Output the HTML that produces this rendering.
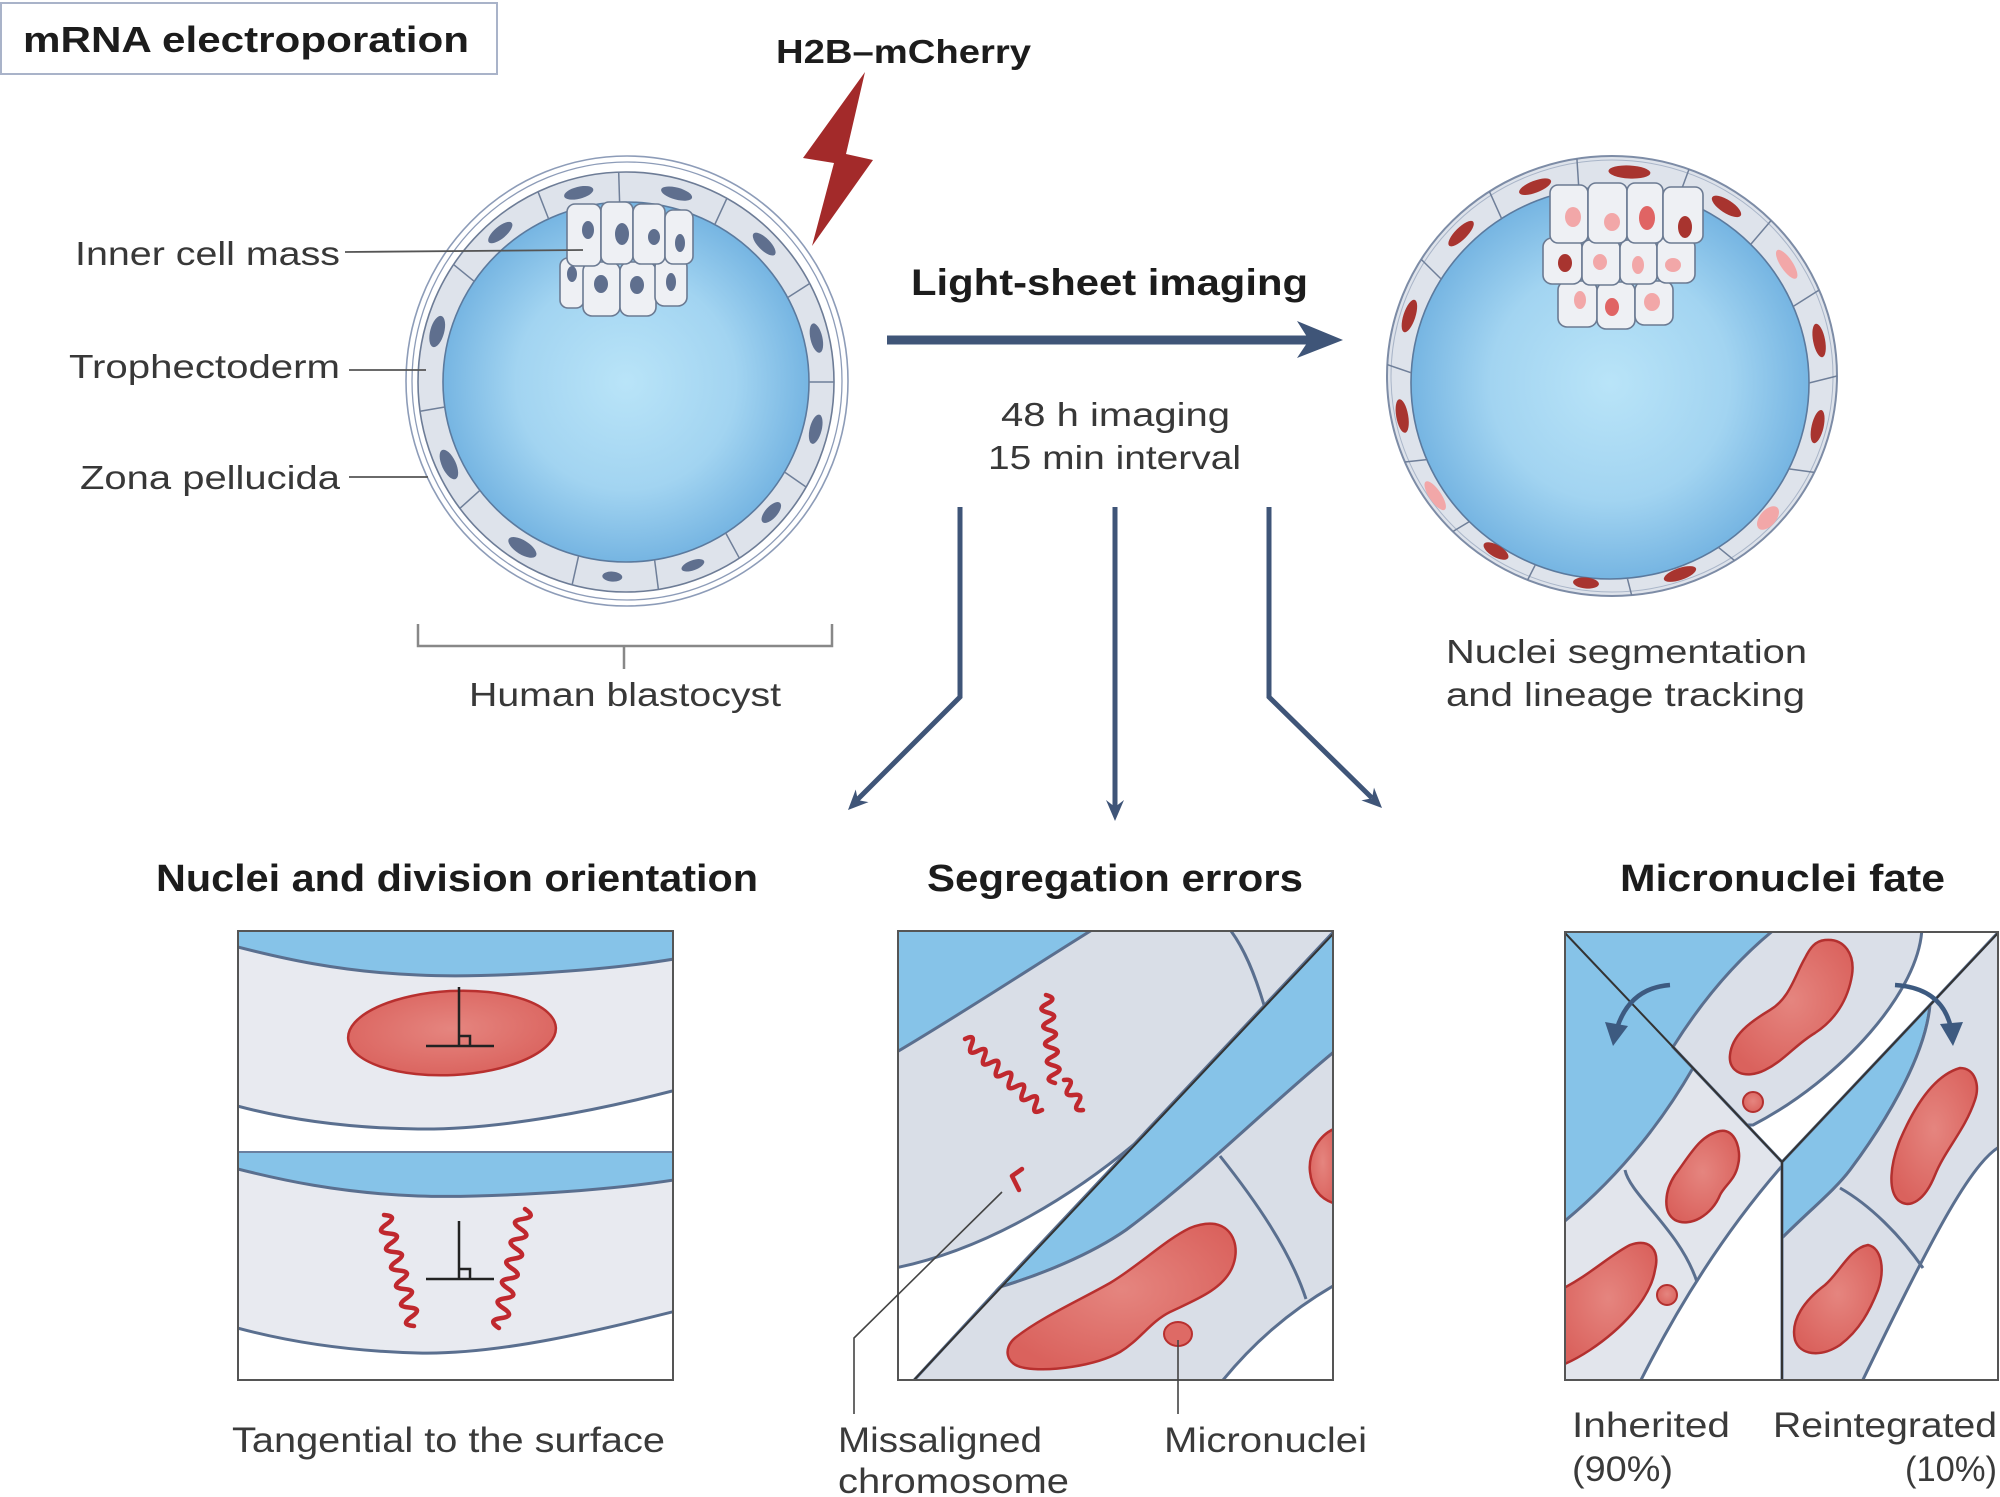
<!DOCTYPE html>
<html><head><meta charset="utf-8"><style>
html,body{margin:0;padding:0;background:#fff;}
body{width:2000px;height:1497px;overflow:hidden;}
svg{display:block;}
text{font-family:"Liberation Sans",Arial,sans-serif;}
.lb{font-size:33px;fill:#383838;}
.bt{font-size:38px;font-weight:700;fill:#1c1c1c;}
.cp{font-size:35px;fill:#3a3a3a;}
</style></head><body>
<svg width="2000" height="1497" viewBox="0 0 2000 1497" xmlns="http://www.w3.org/2000/svg">
<defs>
<radialGradient id="cav" cx="50%" cy="50%" r="50%"><stop offset="0" stop-color="#b9e4f8"/><stop offset="0.6" stop-color="#a2d4f1"/><stop offset="1" stop-color="#76b5e2"/></radialGradient>
<radialGradient id="nuc" cx="50%" cy="45%" r="60%"><stop offset="0" stop-color="#e5857f"/><stop offset="1" stop-color="#da625d"/></radialGradient>
<clipPath id="c1"><rect x="238" y="931" width="435" height="449"/></clipPath>
<clipPath id="c2"><rect x="898" y="931" width="435" height="449"/></clipPath>
<clipPath id="c3"><rect x="1565" y="932" width="433" height="448"/></clipPath>
</defs>

<!-- Title box -->
<rect x="1" y="3" width="496" height="71" fill="#fff" stroke="#a9b3c9" stroke-width="2"/>
<text x="23" y="52" font-size="36" font-weight="700" fill="#1c1c1c" textLength="446" lengthAdjust="spacingAndGlyphs">mRNA electroporation</text>
<text x="776" y="63" font-size="33" font-weight="700" fill="#1c1c1c" textLength="255" lengthAdjust="spacingAndGlyphs">H2B–mCherry</text>
<polygon points="865,72 803,158 834,163 812,246 873,160 846,154" fill="#a32a2a"/>

<!-- Left blastocyst -->
<ellipse cx="627" cy="381" rx="221" ry="225" fill="#fff" stroke="#8d9cb8" stroke-width="1.6"/>
<ellipse cx="627" cy="381" rx="215" ry="219" fill="none" stroke="#8d9cb8" stroke-width="1.3"/>
<ellipse cx="626" cy="382" rx="208" ry="210" fill="#dee3eb" stroke="#6d7c96" stroke-width="1.6"/>
<ellipse cx="626" cy="382" rx="183" ry="180" fill="url(#cav)" stroke="#5b7a9e" stroke-width="1.6"/>
<g stroke="#6f7f99" stroke-width="1.5">
<line x1="474.3" y1="281.4" x2="453.6" y2="264.6"/><line x1="548.6" y1="218.9" x2="538" y2="191.7"/>
<line x1="619.6" y1="202.2" x2="618.7" y2="172.2"/><line x1="714.8" y1="224.5" x2="726.9" y2="198.3"/>
<line x1="787.6" y1="297.6" x2="809.7" y2="283.5"/><line x1="809" y1="382" x2="834" y2="382"/>
<line x1="784.5" y1="472" x2="806.1" y2="487"/><line x1="725.7" y1="533" x2="739.4" y2="558.2"/>
<line x1="654.6" y1="559.8" x2="658.4" y2="589.5"/><line x1="578.6" y1="555.9" x2="572.1" y2="584.9"/>
<line x1="479.8" y1="490.4" x2="459.8" y2="508.4"/><line x1="444.8" y1="407" x2="420.1" y2="411.2"/>
</g>
<g fill="#5f6f8e">
<ellipse cx="500.3" cy="232.6" rx="15" ry="6" transform="rotate(-40 500.3 232.6)"/>
<ellipse cx="578.7" cy="192.8" rx="15" ry="6" transform="rotate(-14 578.7 192.8)"/>
<ellipse cx="676.6" cy="193.6" rx="16" ry="6" transform="rotate(15 676.6 193.6)"/>
<ellipse cx="764.2" cy="244.1" rx="15" ry="6" transform="rotate(45 764.2 244.1)"/>
<ellipse cx="816.4" cy="338.1" rx="15" ry="6" transform="rotate(77 816.4 338.1)"/>
<ellipse cx="815.7" cy="429.2" rx="15" ry="6" transform="rotate(104 815.7 429.2)"/>
<ellipse cx="771.3" cy="512.5" rx="13" ry="6" transform="rotate(132 771.3 512.5)"/>
<ellipse cx="692.9" cy="565.3" rx="12" ry="5" transform="rotate(160 692.9 565.3)"/>
<ellipse cx="612.3" cy="576.6" rx="10" ry="5" transform="rotate(184 612.3 576.6)"/>
<ellipse cx="522.4" cy="547.4" rx="16" ry="7" transform="rotate(212 522.4 547.4)"/>
<ellipse cx="448.9" cy="464.5" rx="16" ry="7" transform="rotate(245 448.9 464.5)"/>
<ellipse cx="437.2" cy="331.5" rx="16" ry="7" transform="rotate(-75 437.2 331.5)"/>
</g>
<g fill="#eef0f4" stroke="#6b7a92" stroke-width="1.6">
<rect x="560" y="258" width="24" height="50" rx="8"/><rect x="583" y="262" width="37" height="54" rx="9"/>
<rect x="620" y="262" width="36" height="54" rx="9"/><rect x="655" y="258" width="32" height="48" rx="9"/>
<rect x="567" y="204" width="34" height="62" rx="8"/><rect x="601" y="202" width="32" height="62" rx="8"/>
<rect x="633" y="204" width="32" height="60" rx="8"/><rect x="665" y="210" width="28" height="54" rx="8"/>
</g>
<g fill="#5f6f8e">
<ellipse cx="588" cy="230" rx="6" ry="9"/><ellipse cx="622" cy="234" rx="7" ry="11"/>
<ellipse cx="654" cy="237" rx="6" ry="8"/><ellipse cx="680" cy="243" rx="5" ry="9"/>
<ellipse cx="572" cy="274" rx="5" ry="8"/><ellipse cx="601" cy="284" rx="7" ry="9"/>
<ellipse cx="637" cy="285" rx="7" ry="9"/><ellipse cx="671" cy="282" rx="5" ry="9"/>
</g>
<g stroke="#555" stroke-width="1.8">
<line x1="345" y1="252" x2="583" y2="250"/>
<line x1="349" y1="370" x2="426" y2="370"/>
<line x1="349" y1="477" x2="428" y2="477"/>
</g>
<text class="lb" x="75" y="265" textLength="265" lengthAdjust="spacingAndGlyphs">Inner cell mass</text>
<text class="lb" x="69" y="378" textLength="271" lengthAdjust="spacingAndGlyphs">Trophectoderm</text>
<text class="lb" x="80" y="489" textLength="260" lengthAdjust="spacingAndGlyphs">Zona pellucida</text>
<path d="M418,624 V646 H832 V624 M624,646 V669" fill="none" stroke="#888" stroke-width="2.5"/>
<text class="lb" x="469" y="706" textLength="312" lengthAdjust="spacingAndGlyphs">Human blastocyst</text>

<!-- Center arrow & text -->
<text x="911" y="295" font-size="37" font-weight="700" fill="#1c1c1c" textLength="397" lengthAdjust="spacingAndGlyphs">Light-sheet imaging</text>
<line x1="887" y1="340" x2="1310" y2="340" stroke="#3f5578" stroke-width="9"/>
<polygon points="1343,340 1297,321 1309,340 1297,358" fill="#3f5578"/>
<text class="lb" x="1001" y="426" font-size="34" textLength="229" lengthAdjust="spacingAndGlyphs">48 h imaging</text>
<text class="lb" x="988" y="469" font-size="34" textLength="253" lengthAdjust="spacingAndGlyphs">15 min interval</text>
<g fill="none" stroke="#3f5578" stroke-width="5" stroke-linejoin="miter">
<polyline points="960,507 960,697 857,800"/>
<polyline points="1115,507 1115,810"/>
<polyline points="1269,507 1269,697 1372,798"/>
</g>
<g fill="#3f5578">
<polygon points="848,810 855.7,789.5 857.9,800.1 868.5,802.1"/>
<polygon points="1115,821 1106,800 1115,807 1124,800"/>
<polygon points="1382,808 1374,787.6 1372,798.2 1361.4,800.4"/>
</g>

<!-- Right blastocyst -->
<ellipse cx="1612" cy="376" rx="225" ry="220" fill="#dee3eb" stroke="#7d8ca6" stroke-width="2"/>
<ellipse cx="1612" cy="376" rx="221" ry="216" fill="none" stroke="#a9b5c8" stroke-width="1"/>
<ellipse cx="1610" cy="383" rx="199" ry="196" fill="url(#cav)" stroke="#5b7a9e" stroke-width="1.6"/>
<g stroke="#6f7f99" stroke-width="1.5">
<line x1="1441.2" y1="279.1" x2="1421.2" y2="259.4"/><line x1="1501.6" y1="218.6" x2="1489.4" y2="191.4"/>
<line x1="1578.9" y1="189.4" x2="1576.9" y2="158.6"/><line x1="1678.1" y1="198.8" x2="1689" y2="169.2"/>
<line x1="1750.7" y1="244.4" x2="1771.1" y2="220.5"/><line x1="1793.3" y1="306.4" x2="1819.2" y2="290"/>
<line x1="1809" y1="383" x2="1837" y2="376"/><line x1="1788.9" y1="468.9" x2="1814.3" y2="472.4"/>
<line x1="1718.5" y1="547.4" x2="1734.6" y2="560.6"/><line x1="1627.3" y1="578.2" x2="1631.6" y2="595.1"/>
<line x1="1535.4" y1="564.7" x2="1527.6" y2="580"/><line x1="1469.3" y1="521.6" x2="1452.9" y2="531.5"/>
<line x1="1426.7" y1="459.6" x2="1404.8" y2="462"/><line x1="1411.2" y1="372.8" x2="1387.2" y2="364.6"/>
</g>
<g>
<ellipse cx="1461.1" cy="233.6" rx="17" ry="6" transform="rotate(-45 1461.1 233.6)" fill="#a8342f"/>
<ellipse cx="1535.1" cy="186.7" rx="17" ry="6" transform="rotate(-21 1535.1 186.7)" fill="#a8342f"/>
<ellipse cx="1629.4" cy="172" rx="21" ry="6.5" transform="rotate(3 1629.4 172)" fill="#a8342f"/>
<ellipse cx="1726.5" cy="206.4" rx="17" ry="6.5" transform="rotate(33 1726.5 206.4)" fill="#a8342f"/>
<ellipse cx="1786.7" cy="264.3" rx="17" ry="6" transform="rotate(56 1786.7 264.3)" fill="#f2a7a8"/>
<ellipse cx="1819.1" cy="340.5" rx="17" ry="6" transform="rotate(79 1819.1 340.5)" fill="#a8342f"/>
<ellipse cx="1817.6" cy="426.6" rx="17" ry="6" transform="rotate(103 1817.6 426.6)" fill="#a8342f"/>
<ellipse cx="1768" cy="518" rx="14" ry="8" transform="rotate(131 1768 518)" fill="#f2a7a8"/>
<ellipse cx="1680" cy="574" rx="17" ry="6" transform="rotate(161 1680 574)" fill="#a8342f"/>
<ellipse cx="1586" cy="583" rx="13" ry="5.5" transform="rotate(185 1586 583)" fill="#a8342f"/>
<ellipse cx="1496" cy="551" rx="14" ry="6" transform="rotate(210 1496 551)" fill="#a8342f"/>
<ellipse cx="1435.2" cy="495.7" rx="17" ry="6" transform="rotate(236 1435.2 495.7)" fill="#f2a7a8"/>
<ellipse cx="1402.2" cy="416" rx="17" ry="6" transform="rotate(260 1402.2 416)" fill="#a8342f"/>
<ellipse cx="1409.4" cy="316" rx="17" ry="6" transform="rotate(-72 1409.4 316)" fill="#a8342f"/>
</g>
<g fill="#eef0f4" stroke="#6b7a92" stroke-width="1.6">
<rect x="1558" y="281" width="39" height="46" rx="9"/><rect x="1597" y="282" width="38" height="47" rx="9"/><rect x="1635" y="281" width="38" height="44" rx="9"/>
<rect x="1543" y="238" width="39" height="46" rx="9"/><rect x="1582" y="240" width="38" height="45" rx="8"/><rect x="1620" y="240" width="37" height="44" rx="8"/><rect x="1657" y="238" width="38" height="45" rx="9"/>
<rect x="1550" y="185" width="38" height="58" rx="8"/><rect x="1588" y="183" width="39" height="60" rx="8"/><rect x="1627" y="183" width="36" height="60" rx="8"/><rect x="1663" y="187" width="40" height="56" rx="8"/>
</g>
<g>
<ellipse cx="1573" cy="217" rx="8" ry="10" fill="#f2a7a8"/><ellipse cx="1612" cy="222" rx="8" ry="9" fill="#f2a7a8"/>
<ellipse cx="1647" cy="218" rx="8" ry="12" fill="#e06464"/><ellipse cx="1685" cy="227" rx="7" ry="11" fill="#a8342f"/>
<ellipse cx="1565" cy="263" rx="7" ry="9" fill="#a8342f"/><ellipse cx="1600" cy="262" rx="7" ry="8" fill="#f2a7a8"/>
<ellipse cx="1638" cy="265" rx="6" ry="9" fill="#f2a7a8"/><ellipse cx="1673" cy="265" rx="8" ry="7" fill="#f2a7a8"/>
<ellipse cx="1580" cy="300" rx="6" ry="9" fill="#f2a7a8"/><ellipse cx="1612" cy="307" rx="7" ry="9" fill="#e06464"/>
<ellipse cx="1652" cy="302" rx="8" ry="9" fill="#f2a7a8"/>
</g>
<text class="lb" x="1446" y="663" textLength="361" lengthAdjust="spacingAndGlyphs">Nuclei segmentation</text>
<text class="lb" x="1446" y="706" textLength="359" lengthAdjust="spacingAndGlyphs">and lineage tracking</text>

<!-- Bottom titles -->
<text class="bt" x="156" y="891" textLength="602" lengthAdjust="spacingAndGlyphs">Nuclei and division orientation</text>
<text class="bt" x="927" y="891" textLength="376" lengthAdjust="spacingAndGlyphs">Segregation errors</text>
<text class="bt" x="1620" y="891" textLength="325" lengthAdjust="spacingAndGlyphs">Micronuclei fate</text>

<!-- Panel 1 -->
<g clip-path="url(#c1)">
<rect x="238" y="931" width="435" height="449" fill="#fff"/>
<path d="M230,931 H680 V958 C600,972 480,978 418,975 C340,972 280,958 230,945 Z" fill="#86c3e8"/>
<path d="M230,945 C280,958 340,972 418,975 C480,978 600,972 680,958 V1089 C600,1110 500,1130 418,1129 C340,1128 280,1118 230,1104 Z" fill="#e8eaf0" stroke="#5a6f8f" stroke-width="3"/>
<path d="M230,1152 H680 V1179 C600,1192 480,1198 418,1196 C340,1193 280,1180 230,1167 Z" fill="#86c3e8" stroke="#6a7f9f" stroke-width="2"/>
<path d="M230,1167 C280,1180 340,1193 418,1196 C480,1198 600,1192 680,1179 V1310 C600,1330 500,1355 418,1353 C340,1351 280,1340 230,1326 Z" fill="#e8eaf0" stroke="#5a6f8f" stroke-width="3"/>
<ellipse cx="452" cy="1033" rx="104" ry="42" transform="rotate(-3 452 1033)" fill="url(#nuc)" stroke="#b8302f" stroke-width="2.5"/>
<g stroke="#222" stroke-width="2.5" fill="none">
<path d="M459,987 V1046 M426,1046 H494 M459,1036 H470 V1046"/>
<path d="M459,1221 V1279 M426,1279 H494 M459,1269 H470 V1279"/>
</g>
<g stroke="#c0282e" stroke-width="4.5" fill="none" stroke-linecap="round" stroke-linejoin="round">
<path d="M384,1215 q14.75,0.98 2.5,9.25 t2.5,9.25 t2.5,9.25 t2.5,9.25 t2.5,9.25 t2.5,9.25 t2.5,9.25 t2.5,9.25 t2.5,9.25 t2.5,9.25 t2.5,9.25 t2.5,9.25"/>
<path d="M525,1209 q12.57,7.94 -2.17,9.92 t-2.17,9.92 t-2.17,9.92 t-2.17,9.92 t-2.17,9.92 t-2.17,9.92 t-2.17,9.92 t-2.17,9.92 t-2.17,9.92 t-2.17,9.92 t-2.17,9.92 t-2.17,9.92"/>
</g>
</g>
<rect x="238" y="931" width="435" height="449" fill="none" stroke="#555" stroke-width="2"/>
<text class="cp" x="232" y="1452" textLength="433" lengthAdjust="spacingAndGlyphs">Tangential to the surface</text>

<!-- Panel 2 -->
<g clip-path="url(#c2)">
<rect x="898" y="931" width="435" height="449" fill="#fff"/>
<path d="M890,925 H1100 C1040,962 960,1015 890,1056 Z" fill="#86c3e8"/>
<path d="M890,1056 C960,1015 1040,962 1100,925 L1340,925 L1138,1141 C1080,1190 990,1250 890,1269 Z" fill="#d9dee7" stroke="#5a6f8f" stroke-width="3"/>
<path d="M1000,1287 L1340,925 L1340,1047 C1280,1095 1200,1175 1126,1230 C1090,1255 1040,1275 1000,1287 Z" fill="#86c3e8" stroke="#5a6f8f" stroke-width="3"/>
<path d="M905,1390 L1000,1287 C1040,1275 1090,1255 1126,1230 C1200,1175 1280,1095 1340,1047 L1340,1282 C1290,1310 1250,1345 1215,1390 Z" fill="#d9dee7" stroke="#5a6f8f" stroke-width="3"/>
<g fill="none" stroke="#5a6f8f" stroke-width="3">
<path d="M1231,931 C1245,950 1255,975 1264,1005"/>
<path d="M1220,1156 C1255,1200 1290,1250 1306,1299"/>
</g>
<line x1="914" y1="1380" x2="1333" y2="934" stroke="#333" stroke-width="2"/>
<path d="M1215,1224 C1235,1228 1240,1250 1232,1268 C1222,1290 1195,1300 1170,1312 C1150,1322 1140,1340 1120,1352 C1095,1366 1050,1372 1025,1368 C1005,1365 1003,1348 1015,1338 C1040,1318 1080,1300 1110,1283 C1140,1265 1165,1240 1190,1228 C1200,1224 1208,1223 1215,1224 Z" fill="url(#nuc)" stroke="#b8302f" stroke-width="2.5"/>
<path d="M1336,1128 C1318,1135 1308,1155 1310,1172 C1312,1190 1322,1200 1336,1204 Z" fill="url(#nuc)" stroke="#b8302f" stroke-width="2.5"/>
<ellipse cx="1178" cy="1334" rx="14" ry="12" fill="#de6a65" stroke="#b8302f" stroke-width="2"/>
<g stroke="#c0282e" stroke-width="4.5" fill="none" stroke-linecap="round" stroke-linejoin="round">
<path d="M965,1039 q11.31,-5.84 6.42,5.92 t6.42,5.92 t6.42,5.92 t6.42,5.92 t6.42,5.92 t6.42,5.92 t6.42,5.92 t6.42,5.92 t6.42,5.92 t6.42,5.92 t6.42,5.92 t6.42,5.92"/>
<path d="M1046,995 q12.35,3.2 0.9,8.8 t0.9,8.8 t0.9,8.8 t0.9,8.8 t0.9,8.8 t0.9,8.8 t0.9,8.8 t0.9,8.8 t0.9,8.8 t0.9,8.8"/>
<path d="M1064,1080 q10.8,-1.6 4.75,7.5 t4.75,7.5 t4.75,7.5 t4.75,7.5"/>
<path d="M1022,1169 L1012,1176 L1019,1190"/>
</g>
</g>
<rect x="898" y="931" width="435" height="449" fill="none" stroke="#555" stroke-width="2"/>
<g stroke="#444" stroke-width="1.6" fill="none">
<polyline points="1002,1192 854,1338 854,1414"/>
<line x1="1178" y1="1340" x2="1178" y2="1414"/>
</g>
<text class="cp" x="838" y="1452" textLength="204" lengthAdjust="spacingAndGlyphs">Missaligned</text>
<text class="cp" x="838" y="1493" textLength="231" lengthAdjust="spacingAndGlyphs">chromosome</text>
<text class="cp" x="1164" y="1452" textLength="203" lengthAdjust="spacingAndGlyphs">Micronuclei</text>

<!-- Panel 3 -->
<g clip-path="url(#c3)">
<rect x="1565" y="932" width="433" height="448" fill="#fff"/>
<path d="M1560,925 H1780 Q1720,972 1673,1047 L1693,1068 Q1640,1160 1560,1225 Z" fill="#86c3e8"/>
<path d="M1560,1225 Q1640,1160 1693,1068 L1782,1162 L1782,1166 Q1700,1260 1636,1390 L1560,1390 Z" fill="#e2e5ec" stroke="#5a6f8f" stroke-width="3"/>
<path d="M1673,1047 Q1720,972 1780,925 L1922,925 C1922,990 1840,1080 1753,1125 L1747,1125 Z" fill="#dadfe8" stroke="#5a6f8f" stroke-width="3"/>
<path d="M1782,1162 L1930,1005 C1925,1060 1880,1130 1850,1170 C1835,1190 1810,1210 1782,1238 Z" fill="#86c3e8" stroke="#5a6f8f" stroke-width="3"/>
<path d="M1782,1238 C1810,1210 1835,1190 1850,1170 C1880,1130 1925,1060 1930,1005 L2005,925 L2005,1144 C1975,1155 1935,1230 1858,1390 L1782,1390 Z" fill="#dadfe8" stroke="#5a6f8f" stroke-width="3"/>
<g fill="none" stroke="#5a6f8f" stroke-width="3">
<path d="M1625,1170 C1630,1195 1680,1230 1697,1282"/>
<path d="M1840,1188 C1870,1205 1900,1235 1923,1268"/>
</g>
<g fill="url(#nuc)" stroke="#b3302f" stroke-width="2.5">
<path d="M1825,940 C1845,938 1855,955 1852,975 C1848,1000 1835,1020 1815,1033 C1795,1045 1785,1060 1765,1070 C1745,1080 1728,1072 1730,1055 C1732,1035 1750,1022 1770,1010 C1790,998 1795,975 1805,958 C1810,948 1815,941 1825,940 Z"/>
<path d="M1720,1131 C1735,1128 1742,1150 1738,1165 C1735,1180 1725,1185 1720,1195 C1712,1215 1690,1228 1675,1220 C1662,1212 1665,1190 1675,1175 C1690,1155 1700,1135 1720,1131 Z"/>
<path d="M1560,1290 C1590,1275 1610,1255 1630,1245 C1650,1238 1660,1250 1655,1270 C1650,1300 1620,1330 1590,1350 C1578,1358 1570,1362 1560,1366 Z"/>
<path d="M1960,1068 C1975,1068 1980,1085 1975,1100 C1965,1130 1945,1150 1935,1175 C1925,1200 1910,1210 1898,1200 C1888,1190 1890,1165 1900,1140 C1915,1105 1935,1075 1960,1068 Z"/>
<path d="M1868,1245 C1882,1248 1885,1270 1878,1290 C1870,1310 1860,1330 1840,1345 C1820,1358 1800,1355 1795,1340 C1790,1320 1805,1300 1825,1285 C1840,1272 1850,1248 1868,1245 Z"/>
<circle cx="1753" cy="1102" r="10" stroke-width="2"/>
<circle cx="1667" cy="1295" r="10" stroke-width="2"/>
</g>
<g stroke="#333" stroke-width="2" fill="none">
<polyline points="1565,933 1782,1162 1998,933"/>
<line x1="1782" y1="1162" x2="1782" y2="1380"/>
</g>
<g fill="none" stroke="#3d5a80" stroke-width="4.5">
<path d="M1670,985 Q1630,988 1617,1028"/>
<path d="M1895,985 Q1942,988 1951,1028"/>
</g>
<g fill="#3d5a80">
<polygon points="1613,1046 1605,1022 1628,1026"/>
<polygon points="1953,1046 1940,1024 1963,1022"/>
</g>
</g>
<rect x="1565" y="932" width="433" height="448" fill="none" stroke="#555" stroke-width="2"/>
<text class="cp" x="1572" y="1437" textLength="158" lengthAdjust="spacingAndGlyphs">Inherited</text>
<text class="cp" x="1572" y="1481" textLength="101" lengthAdjust="spacingAndGlyphs">(90%)</text>
<text class="cp" x="1773" y="1437" textLength="224" lengthAdjust="spacingAndGlyphs">Reintegrated</text>
<text class="cp" x="1905" y="1481" textLength="92" lengthAdjust="spacingAndGlyphs">(10%)</text>
</svg>
</body></html>
